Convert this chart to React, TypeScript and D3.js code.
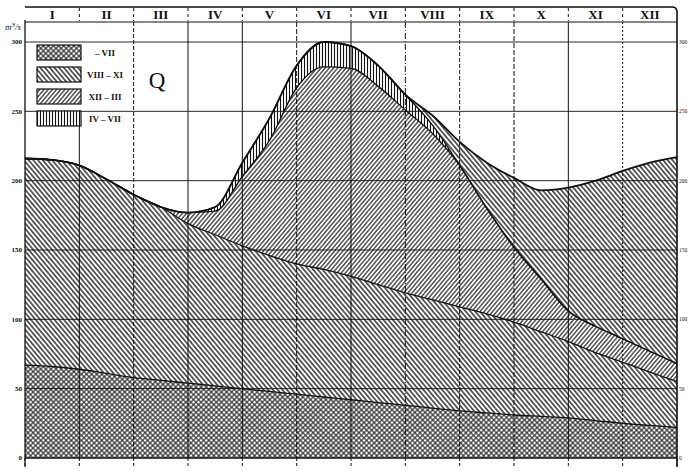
import { useEffect, useRef } from 'react';
import * as d3 from 'd3';

const WIDTH = 688;
const HEIGHT = 471;

const months = ['I', 'II', 'III', 'IV', 'V', 'VI', 'VII', 'VIII', 'IX', 'X', 'XI', 'XII'];
const yTicks = [0, 50, 100, 150, 200, 250, 300];

// positions of the readings, in months counted from 1 January
const samplePos = [0, 0.5, 1, 1.5, 2, 2.5, 3, 3.5, 4, 4.5, 5, 5.5, 6, 6.5, 7, 7.5, 8, 8.5, 9, 9.5, 10, 10.5, 11, 11.5, 12];

// discharge of each component (m3/s), stacked from the bottom
const oldWater = [67, 66, 64, 61, 58, 56, 54, 52, 50, 48, 46, 44, 42, 40, 38, 36, 34, 32.5, 31, 30, 29, 27, 25, 23.5, 22];
const autumnPrev = [149, 149, 147, 140, 132, 125, 115, 109, 103, 98, 94, 92, 89, 85, 81, 78, 75, 71.5, 67, 61, 55, 49, 44, 38.5, 33];
const winter = [0, 0, 0, 0, 0, 0, 8, 17, 50, 83, 127, 146, 150, 143, 132, 120, 102, 76, 54, 38, 22, 19, 17, 15, 13];
const spring = [0, 0, 0, 0, 0, 0, 0, 3, 10, 16, 16, 18, 16, 15, 11, 6, 0, 0, 0, 0, 0, 0, 0, 0, 0];
const autumnNew = [0, 0, 0, 0, 0, 0, 0, 0, 0, 0, 0, 0, 0, 0, 0, 7, 17, 33, 50, 64, 89, 105, 121, 136, 149];

const legendLabels = ['–  VII', 'VIII – XI', 'XII – III', 'IV – VII'];

export default function App() {
    const svgRef = useRef<SVGSVGElement>(null);

    useEffect(() => {
        if (!svgRef.current) return;
        const svg = d3.select(svgRef.current);
        svg.selectAll('*').remove();

        const ink = '#111';
        const serif = '"Liberation Serif", "DejaVu Serif", serif';
        const margin = { top: 42, right: 11, bottom: 13, left: 25 };

        const x = d3.scaleLinear().domain([0, 12]).range([margin.left, WIDTH - margin.right]);
        const y = d3.scaleLinear().domain([0, 300]).range([HEIGHT - margin.bottom, margin.top]);

        // hatch patterns
        const defs = svg.append('defs');
        const hatch = (id: string, size: number, angle: number, sw: number, cross = false) => {
            const p = defs.append('pattern')
                .attr('id', id)
                .attr('patternUnits', 'userSpaceOnUse')
                .attr('width', size)
                .attr('height', size)
                .attr('patternTransform', `rotate(${angle})`);
            p.append('rect').attr('width', size).attr('height', size).attr('fill', '#fff');
            p.append('line')
                .attr('x1', size / 2).attr('x2', size / 2)
                .attr('y1', 0).attr('y2', size)
                .attr('stroke', ink).attr('stroke-width', sw);
            if (cross) {
                p.append('line')
                    .attr('x1', 0).attr('x2', size)
                    .attr('y1', size / 2).attr('y2', size / 2)
                    .attr('stroke', ink).attr('stroke-width', sw);
            }
        };
        hatch('h-cross', 3.6, 45, 1.0, true);
        hatch('h-back', 3.6, -40, 1.3);
        hatch('h-fwd', 3.2, 40, 1.1);
        hatch('h-vert', 3, 0, 1.1);

        const fills: Record<string, string> = {
            oldWater: 'url(#h-cross)',
            autumnPrev: 'url(#h-back)',
            winter: 'url(#h-fwd)',
            spring: 'url(#h-vert)',
            autumnNew: 'url(#h-back)'
        };

        const keys = ['oldWater', 'autumnPrev', 'winter', 'spring', 'autumnNew'];
        const rows = samplePos.map((m, i) => ({
            m,
            oldWater: oldWater[i],
            autumnPrev: autumnPrev[i],
            winter: winter[i],
            spring: spring[i],
            autumnNew: autumnNew[i]
        }));
        const series = d3.stack<any>().keys(keys)(rows);

        const area = d3.area<any>()
            .x(d => x(d.data.m))
            .y0(d => y(d[0]))
            .y1(d => y(d[1]))
            .curve(d3.curveMonotoneX);

        const topLine = d3.line<any>()
            .x(d => x(d.data.m))
            .y(d => y(d[1]))
            .curve(d3.curveMonotoneX);

        series.forEach(s => {
            svg.append('path')
                .datum(s)
                .attr('fill', fills[s.key])
                .attr('stroke', 'none')
                .attr('d', area);
        });

        // grid
        yTicks.forEach(t => {
            svg.append('line')
                .attr('x1', x(0)).attr('x2', x(12))
                .attr('y1', y(t)).attr('y2', y(t))
                .attr('stroke', ink)
                .attr('stroke-width', t === 0 ? 1.6 : 0.9);
        });

        const monthDash = ['', '', '4,2', '', '', '5,2', '', '6,2,1,2', '4,2', '5,2', '', '2,2'];
        d3.range(1, 12).forEach(i => {
            svg.append('line')
                .attr('x1', x(i)).attr('x2', x(i))
                .attr('y1', i === 1 ? y(250) : 22)
                .attr('y2', y(0))
                .attr('stroke', ink)
                .attr('stroke-width', 1)
                .attr('stroke-dasharray', monthDash[i]);
        });

        // bottom ticks
        d3.range(0, 13).forEach(i => {
            svg.append('line')
                .attr('x1', x(i)).attr('x2', x(i))
                .attr('y1', y(0)).attr('y2', y(0) + 9)
                .attr('stroke', ink)
                .attr('stroke-width', 1)
                .attr('stroke-dasharray', '3,2');
        });

        // boundary lines
        series.forEach((s, i) => {
            svg.append('path')
                .datum(s)
                .attr('fill', 'none')
                .attr('stroke', ink)
                .attr('stroke-width', i === series.length - 1 ? 1.8 : 1.3)
                .attr('d', topLine);
        });

        // frame and header
        svg.append('line')
            .attr('x1', x(0)).attr('x2', x(0))
            .attr('y1', 20).attr('y2', y(0) + 9)
            .attr('stroke', ink).attr('stroke-width', 1.3);
        svg.append('path')
            .attr('d', `M${x(0)},7 L${x(12) - 5},7 Q${x(12)},7 ${x(12)},12 L${x(12)},${y(0) + 9}`)
            .attr('fill', 'none')
            .attr('stroke', ink)
            .attr('stroke-width', 1.6);
        svg.append('line')
            .attr('x1', x(0)).attr('x2', x(12))
            .attr('y1', 22).attr('y2', 22)
            .attr('stroke', ink).attr('stroke-width', 1.2);
        d3.range(1, 12).forEach(i => {
            svg.append('line')
                .attr('x1', x(i)).attr('x2', x(i))
                .attr('y1', 8).attr('y2', 21)
                .attr('stroke', ink)
                .attr('stroke-width', 1)
                .attr('stroke-dasharray', '3,3');
        });

        months.forEach((mName, i) => {
            svg.append('text')
                .attr('x', x(i + 0.5))
                .attr('y', 19)
                .attr('text-anchor', 'middle')
                .style('font-family', serif)
                .style('font-weight', 'bold')
                .style('font-size', '13px')
                .style('fill', ink)
                .text(mName);
        });

        // axis labels
        yTicks.forEach(t => {
            svg.append('text')
                .attr('x', x(0) - 3)
                .attr('y', y(t))
                .attr('dy', '0.35em')
                .attr('text-anchor', 'end')
                .style('font-family', serif)
                .style('font-weight', 'bold')
                .style('font-size', '7px')
                .style('fill', ink)
                .text(t);
            svg.append('text')
                .attr('x', x(12) + 2)
                .attr('y', y(t))
                .attr('dy', '0.35em')
                .attr('text-anchor', 'start')
                .style('font-family', serif)
                .style('font-size', '5.5px')
                .style('fill', ink)
                .text(t);
        });

        const unit = svg.append('text')
            .attr('x', 5)
            .attr('y', 30)
            .style('font-family', serif)
            .style('font-size', '9px')
            .style('font-style', 'italic')
            .style('fill', ink);
        unit.append('tspan').text('m');
        unit.append('tspan').attr('dy', -3).style('font-size', '7px').text('3');
        unit.append('tspan').attr('dy', 3).text('/s');

        // legend
        const legendKeys = ['oldWater', 'autumnPrev', 'winter', 'spring'];
        legendKeys.forEach((k, i) => {
            const top = 45 + i * 22;
            svg.append('rect')
                .attr('x', 37)
                .attr('y', top)
                .attr('width', 44)
                .attr('height', 15)
                .attr('fill', fills[k])
                .attr('stroke', ink)
                .attr('stroke-width', 1.2);
            svg.append('text')
                .attr('x', 105)
                .attr('y', top + 11)
                .attr('text-anchor', 'middle')
                .style('font-family', serif)
                .style('font-weight', 'bold')
                .style('font-size', '9px')
                .style('fill', ink)
                .text(legendLabels[i]);
        });

        svg.append('text')
            .attr('x', 157)
            .attr('y', 88)
            .attr('text-anchor', 'middle')
            .style('font-family', serif)
            .style('font-size', '23px')
            .style('fill', ink)
            .text('Q');
    }, []);

    return (
        <svg
            ref={svgRef}
            width={WIDTH}
            height={HEIGHT}
            style={{ position: 'absolute', left: 0, top: 0, background: '#fff' }}
        />
    );
}
